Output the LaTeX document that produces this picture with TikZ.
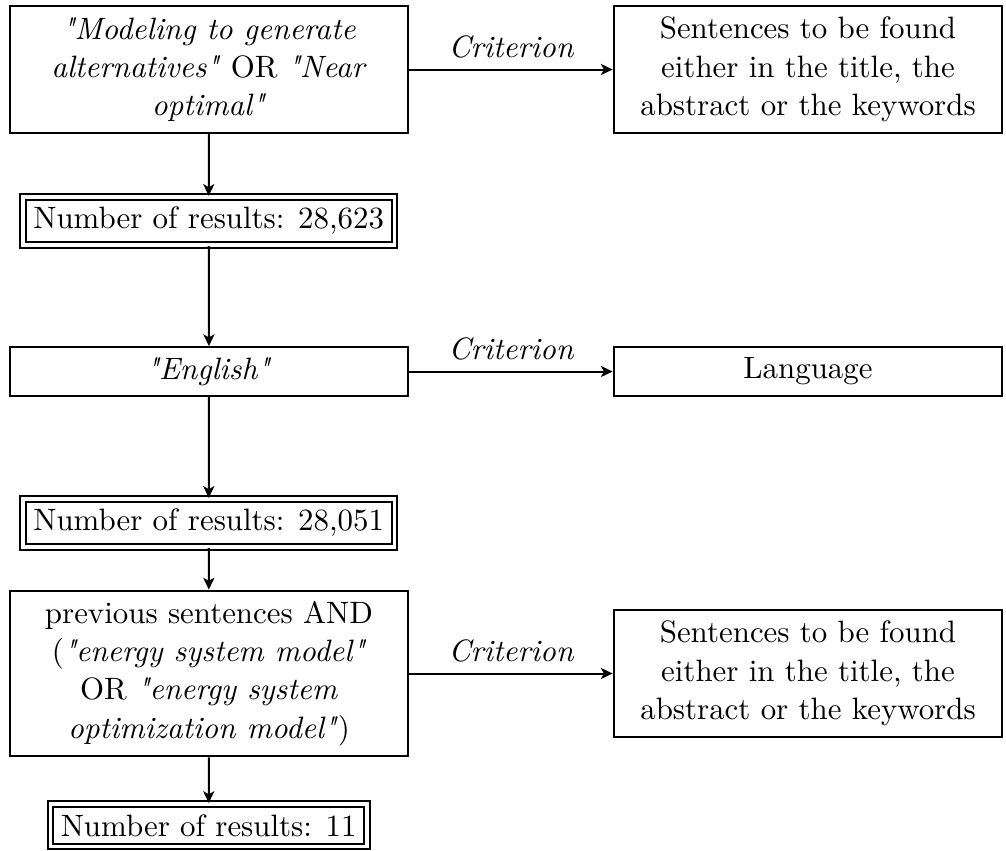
\documentclass[tikz,border=0pt]{standalone}
\usetikzlibrary{arrows.meta}
\newcommand\dq{\XeTeXglyph\XeTeXcharglyph"22\relax}
\begin{document}
\begin{tikzpicture}[x=0.3236pt,y=-0.3236pt,
  line width=0.65pt,
  box/.style={draw, align=center, font=\fontsize{10}{12.4}\selectfont},
  lbox/.style={box, minimum width=129pt},
  rbox/.style={box, minimum width=125.8pt},
  res/.style={draw, double, double distance=1.15pt},
  conn/.style={-{Stealth[length=3.8pt,width=3.6pt,inset=1pt]}},
  crit/.style={midway, above, font=\itshape}]
\useasboundingbox (0,0) rectangle (1006,850);
\node[lbox, minimum height=40.8pt] (b1) at (209,69.5)
  {\textit{\dq Modeling to generate}\\\textit{alternatives\dq} OR \textit{\dq Near}\\\textit{optimal\dq}};
\node[rbox, minimum height=40.8pt] (r1) at (808,69.5)
  {Sentences to be found\\either in the title, the\\abstract or the keywords};
\node[res] (n1) at (208.7,221) {Number of results: 28,623};
\node[lbox, minimum height=15.8pt] (b2) at (209,371.5) {\textit{\dq English\dq}};
\node[rbox, minimum height=15.8pt] (r2) at (808,371.5) {Language};
\node[res] (n2) at (208.7,523) {Number of results: 28,051};
\node[lbox, minimum height=53.7pt] (b3) at (209,673.5)
  {previous sentences AND\\(\textit{\dq energy system model\dq}\\OR \textit{\dq energy system}\\\textit{optimization model\dq})};
\node[rbox, minimum height=40.8pt] (r3) at (808,673.5)
  {Sentences to be found\\either in the title, the\\abstract or the keywords};
\node[res] (n3) at (208.7,825.3) {Number of results: 11};
\draw[conn] (b1) -- node[crit] {Criterion} (r1);
\draw[conn] (b2) -- node[crit] {Criterion} (r2);
\draw[conn] (b3) -- node[crit] {Criterion} (r3);
\draw[conn] (b1) -- (n1);
\draw[conn] (n1) -- (b2);
\draw[conn] (b2) -- (n2);
\draw[conn] (n2) -- (b3);
\draw[conn] (b3) -- (n3);
\end{tikzpicture}
\end{document}
